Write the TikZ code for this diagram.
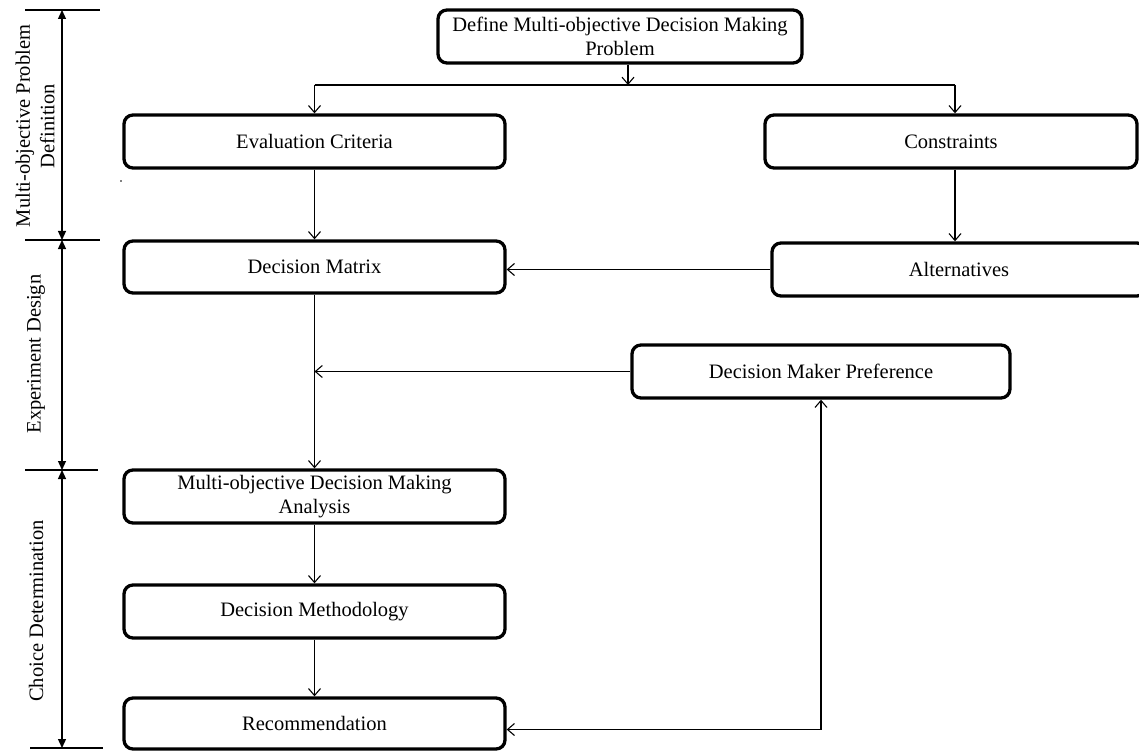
\documentclass[tikz,border=0pt]{standalone}
\usepackage{fontspec}
\setmainfont{Liberation Serif}
\usetikzlibrary{arrows.meta}
\begin{document}
\begin{tikzpicture}[x=1pt,y=-1pt,
  every node/.style={font=\fontsize{20.5}{24.5}\selectfont},
  box/.style={draw, line width=3.3pt, rounded corners=9pt, inner sep=0pt, align=center},
  arr/.style={line width=1.1pt, -{Straight Barb[length=7pt,width=12pt]}},
  darr/.style={line width=1.1pt, {Straight Barb[length=7pt,width=12pt]}-{Straight Barb[length=7pt,width=12pt]}},
  plain/.style={line width=1.1pt},
  brk/.style={line width=1.3pt, {Triangle[length=9pt,width=8pt]}-{Triangle[length=9pt,width=8pt]}},
  tick/.style={line width=1.3pt},
  side/.style={rotate=90, align=center, inner sep=0pt}]
\useasboundingbox (0,0) rectangle (1139,751);

% boxes
\node[box, minimum width=364pt, minimum height=53pt] (top) at (620,36.5) {Define Multi-objective Decision Making\\Problem};
\node[box, minimum width=381pt, minimum height=53pt] (ec) at (314.5,141.5) {Evaluation Criteria};
\node[box, minimum width=372pt, minimum height=53pt] (con) at (951,141.5) {Constraints};
\node[box, minimum width=381pt, minimum height=52pt] (dm) at (314.5,267) {Decision Matrix};
\node[box, minimum width=374pt, minimum height=53pt] (alt) at (959,269.5) {Alternatives};
\node[box, minimum width=378pt, minimum height=53pt] (dmp) at (821,371.5) {Decision Maker Preference};
\node[box, minimum width=381pt, minimum height=53pt] (moda) at (314.5,496.5) {Multi-objective Decision Making\\Analysis};
\node[box, minimum width=381pt, minimum height=53pt] (meth) at (314.5,611.5) {Decision Methodology};
\node[box, minimum width=381pt, minimum height=51pt] (rec) at (314.5,723.5) {Recommendation};

% connectors
\coordinate (jm) at (628,85);
\coordinate (jl) at (314.5,85);
\coordinate (jr) at (955,85);
\draw[arr] (top.south -| jm) -- (jm);
\draw[plain] (jl) -- (jr);
\draw[arr] (jl) -- (ec.north);
\draw[arr] (jr) -- (con.north -| jr);
\draw[arr] (ec.south) -- (dm.north);
\draw[arr] (con.south -| jr) -- (alt.north -| jr);
\draw[arr] (alt.west) -- (alt.west -| dm.east);
\draw[arr] (dm.south) -- (moda.north);
\draw[arr] (dmp.west) -- (dmp.west -| dm.south);
\draw[arr] (moda.south) -- (meth.north);
\draw[arr] (meth.south) -- (rec.north);
\draw[darr] ([yshift=-6pt]rec.east) -| (dmp.south);

% left bracket
\coordinate (b1) at (62,10);
\coordinate (b2) at (62,240);
\coordinate (b3) at (62,470);
\coordinate (b4) at (62,748);
\draw[tick] (25,10) -- (100,10);
\draw[tick] (25,240) -- (100,240);
\draw[tick] (25,470) -- (98,470);
\draw[tick] (30,748) -- (103,748);
\draw[brk] (b1) -- (b2);
\draw[brk] (b2) -- (b3);
\draw[brk] (b3) -- (b4);
\node[side] (l1) at (35,126) {Multi-objective Problem\\Definition};
\node[side] (l2) at (36,354) {Experiment Design};
\node[side] (l3) at (36,611) {Choice Determination};

\fill (121,181) circle (0.9pt);
\end{tikzpicture}
\end{document}
